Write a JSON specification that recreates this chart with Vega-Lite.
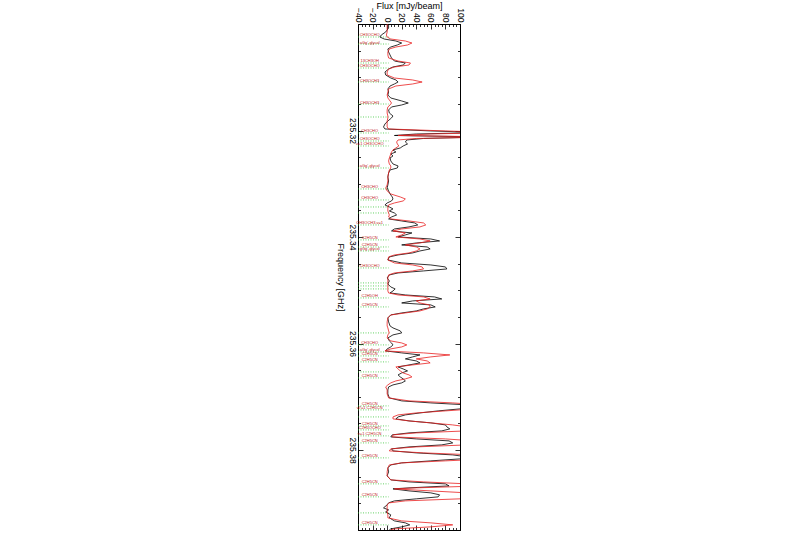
{
  "$schema": "https://vega.github.io/schema/vega-lite/v6.json",
  "width": 102,
  "height": 506,
  "autosize": "none",
  "padding": {"left": 358, "top": 24, "right": 340, "bottom": 3},
  "background": "white",
  "config": {
    "view": {"stroke": "black", "strokeWidth": 1},
    "axis": {"labelFont": "Liberation Sans", "titleFont": "Liberation Sans", "labelColor": "black", "titleColor": "black", "domainColor": "black", "tickColor": "black", "titleFontWeight": "normal", "grid": false, "labelFontSize": 8.5, "titleFontSize": 9, "domainWidth": 1, "tickWidth": 0.8}
  },
  "datasets": {
    "spec": [
      {"f": 235.30000, "obs": 2, "mod": 0},
      {"f": 235.30075, "obs": 2, "mod": 0},
      {"f": 235.30150, "obs": -2, "mod": 0},
      {"f": 235.30206, "obs": -8, "mod": -1},
      {"f": 235.30244, "obs": -10, "mod": 0},
      {"f": 235.30282, "obs": -4, "mod": 5},
      {"f": 235.30319, "obs": 12, "mod": 25},
      {"f": 235.30357, "obs": 20, "mod": 34},
      {"f": 235.30394, "obs": 14, "mod": 28},
      {"f": 235.30432, "obs": 5, "mod": 12},
      {"f": 235.30469, "obs": 1, "mod": 3},
      {"f": 235.30526, "obs": 2, "mod": 1},
      {"f": 235.30582, "obs": 4, "mod": 1},
      {"f": 235.30638, "obs": 6, "mod": 2},
      {"f": 235.30695, "obs": 10, "mod": 15},
      {"f": 235.30732, "obs": 25, "mod": 32},
      {"f": 235.30770, "obs": 22, "mod": 30},
      {"f": 235.30807, "obs": 8, "mod": 10},
      {"f": 235.30845, "obs": 2, "mod": 2},
      {"f": 235.30901, "obs": -3, "mod": 0},
      {"f": 235.30957, "obs": -2, "mod": 0},
      {"f": 235.31014, "obs": 5, "mod": 10},
      {"f": 235.31051, "obs": 12, "mod": 35},
      {"f": 235.31089, "obs": 15, "mod": 48},
      {"f": 235.31126, "obs": 10, "mod": 35},
      {"f": 235.31164, "obs": 4, "mod": 12},
      {"f": 235.31220, "obs": 1, "mod": 2},
      {"f": 235.31276, "obs": 2, "mod": 1},
      {"f": 235.31333, "obs": 1, "mod": 0},
      {"f": 235.31389, "obs": 5, "mod": 1},
      {"f": 235.31445, "obs": 20, "mod": 4},
      {"f": 235.31483, "obs": 29, "mod": 6},
      {"f": 235.31520, "obs": 20, "mod": 4},
      {"f": 235.31558, "obs": 6, "mod": 1},
      {"f": 235.31614, "obs": 2, "mod": 0},
      {"f": 235.31671, "obs": 3, "mod": 0},
      {"f": 235.31727, "obs": 8, "mod": 1},
      {"f": 235.31764, "obs": 6, "mod": 1},
      {"f": 235.31821, "obs": 1, "mod": 0},
      {"f": 235.31877, "obs": -3, "mod": 0},
      {"f": 235.31933, "obs": -5, "mod": 0},
      {"f": 235.31971, "obs": -3, "mod": 2},
      {"f": 235.32008, "obs": 60, "mod": 80},
      {"f": 235.32037, "obs": 130, "mod": 150},
      {"f": 235.32065, "obs": 40, "mod": 60},
      {"f": 235.32093, "obs": 10, "mod": 15},
      {"f": 235.32121, "obs": 130, "mod": 150},
      {"f": 235.32149, "obs": 50, "mod": 40},
      {"f": 235.32177, "obs": 27, "mod": 15},
      {"f": 235.32215, "obs": 25, "mod": 13},
      {"f": 235.32252, "obs": 28, "mod": 14},
      {"f": 235.32290, "obs": 22, "mod": 16},
      {"f": 235.32327, "obs": 18, "mod": 12},
      {"f": 235.32365, "obs": 8, "mod": 8},
      {"f": 235.32403, "obs": 12, "mod": 6},
      {"f": 235.32440, "obs": 5, "mod": 5},
      {"f": 235.32478, "obs": 8, "mod": 4},
      {"f": 235.32515, "obs": 4, "mod": 3},
      {"f": 235.32571, "obs": 5, "mod": 2},
      {"f": 235.32628, "obs": 8, "mod": 3},
      {"f": 235.32665, "obs": 15, "mod": 5},
      {"f": 235.32703, "obs": 14, "mod": 5},
      {"f": 235.32740, "obs": 4, "mod": 3},
      {"f": 235.32797, "obs": 2, "mod": 2},
      {"f": 235.32872, "obs": 1, "mod": 1},
      {"f": 235.32947, "obs": 2, "mod": 1},
      {"f": 235.33022, "obs": 1, "mod": 0},
      {"f": 235.33078, "obs": 0, "mod": -2},
      {"f": 235.33135, "obs": 2, "mod": 0},
      {"f": 235.33191, "obs": 4, "mod": 5},
      {"f": 235.33247, "obs": 7, "mod": 18},
      {"f": 235.33285, "obs": 8, "mod": 25},
      {"f": 235.33322, "obs": 6, "mod": 22},
      {"f": 235.33360, "obs": 0, "mod": 10},
      {"f": 235.33397, "obs": -3, "mod": 2},
      {"f": 235.33435, "obs": 3, "mod": 1},
      {"f": 235.33472, "obs": 8, "mod": 1},
      {"f": 235.33510, "obs": 3, "mod": 1},
      {"f": 235.33548, "obs": 10, "mod": 2},
      {"f": 235.33585, "obs": 13, "mod": 3},
      {"f": 235.33623, "obs": 6, "mod": 2},
      {"f": 235.33660, "obs": 2, "mod": 5},
      {"f": 235.33698, "obs": 20, "mod": 30},
      {"f": 235.33735, "obs": 38, "mod": 50},
      {"f": 235.33773, "obs": 42, "mod": 53},
      {"f": 235.33810, "obs": 30, "mod": 45},
      {"f": 235.33848, "obs": 10, "mod": 20},
      {"f": 235.33885, "obs": 6, "mod": 8},
      {"f": 235.33923, "obs": 34, "mod": 25},
      {"f": 235.33960, "obs": 25, "mod": 20},
      {"f": 235.33998, "obs": 15, "mod": 12},
      {"f": 235.34036, "obs": 60, "mod": 45},
      {"f": 235.34073, "obs": 72, "mod": 59},
      {"f": 235.34111, "obs": 40, "mod": 45},
      {"f": 235.34148, "obs": 20, "mod": 25},
      {"f": 235.34186, "obs": 55, "mod": 40},
      {"f": 235.34223, "obs": 59, "mod": 45},
      {"f": 235.34261, "obs": 45, "mod": 40},
      {"f": 235.34298, "obs": 35, "mod": 30},
      {"f": 235.34336, "obs": 15, "mod": 10},
      {"f": 235.34373, "obs": 3, "mod": 2},
      {"f": 235.34430, "obs": 1, "mod": 1},
      {"f": 235.34486, "obs": 20, "mod": 10},
      {"f": 235.34524, "obs": 60, "mod": 35},
      {"f": 235.34561, "obs": 80, "mod": 48},
      {"f": 235.34599, "obs": 82, "mod": 50},
      {"f": 235.34636, "obs": 50, "mod": 35},
      {"f": 235.34674, "obs": 15, "mod": 10},
      {"f": 235.34711, "obs": 3, "mod": 2},
      {"f": 235.34768, "obs": 0, "mod": 1},
      {"f": 235.34824, "obs": 3, "mod": 1},
      {"f": 235.34880, "obs": 1, "mod": 1},
      {"f": 235.34937, "obs": 5, "mod": 1},
      {"f": 235.34974, "obs": 11, "mod": 1},
      {"f": 235.35012, "obs": 8, "mod": 1},
      {"f": 235.35049, "obs": 4, "mod": 2},
      {"f": 235.35087, "obs": 25, "mod": 15},
      {"f": 235.35124, "obs": 65, "mod": 50},
      {"f": 235.35162, "obs": 75, "mod": 59},
      {"f": 235.35199, "obs": 35, "mod": 40},
      {"f": 235.35237, "obs": 20, "mod": 45},
      {"f": 235.35274, "obs": 60, "mod": 58},
      {"f": 235.35312, "obs": 66, "mod": 59},
      {"f": 235.35349, "obs": 50, "mod": 55},
      {"f": 235.35387, "obs": 40, "mod": 45},
      {"f": 235.35425, "obs": 20, "mod": 25},
      {"f": 235.35462, "obs": 5, "mod": 5},
      {"f": 235.35518, "obs": 1, "mod": 1},
      {"f": 235.35593, "obs": 2, "mod": 0},
      {"f": 235.35669, "obs": 4, "mod": 0},
      {"f": 235.35706, "obs": 8, "mod": 1},
      {"f": 235.35762, "obs": 18, "mod": 2},
      {"f": 235.35800, "obs": 20, "mod": 3},
      {"f": 235.35837, "obs": 8, "mod": 1},
      {"f": 235.35894, "obs": 1, "mod": 0},
      {"f": 235.35950, "obs": 3, "mod": 5},
      {"f": 235.35988, "obs": 6, "mod": 20},
      {"f": 235.36025, "obs": 8, "mod": 27},
      {"f": 235.36063, "obs": 5, "mod": 20},
      {"f": 235.36100, "obs": 0, "mod": 5},
      {"f": 235.36138, "obs": -2, "mod": -3},
      {"f": 235.36175, "obs": 20, "mod": 50},
      {"f": 235.36213, "obs": 45, "mod": 86},
      {"f": 235.36250, "obs": 35, "mod": 60},
      {"f": 235.36288, "obs": 25, "mod": 40},
      {"f": 235.36326, "obs": 40, "mod": 55},
      {"f": 235.36363, "obs": 45, "mod": 59},
      {"f": 235.36401, "obs": 30, "mod": 35},
      {"f": 235.36438, "obs": 15, "mod": 12},
      {"f": 235.36476, "obs": 22, "mod": 15},
      {"f": 235.36513, "obs": 28, "mod": 18},
      {"f": 235.36551, "obs": 20, "mod": 22},
      {"f": 235.36588, "obs": 15, "mod": 30},
      {"f": 235.36626, "obs": 18, "mod": 34},
      {"f": 235.36663, "obs": 22, "mod": 25},
      {"f": 235.36701, "obs": 25, "mod": 12},
      {"f": 235.36738, "obs": 20, "mod": 5},
      {"f": 235.36776, "obs": 8, "mod": 1},
      {"f": 235.36814, "obs": 2, "mod": -2},
      {"f": 235.36870, "obs": 1, "mod": 0},
      {"f": 235.36945, "obs": 1, "mod": 0},
      {"f": 235.37020, "obs": 3, "mod": 2},
      {"f": 235.37076, "obs": 20, "mod": 30},
      {"f": 235.37114, "obs": 60, "mod": 90},
      {"f": 235.37151, "obs": 110, "mod": 130},
      {"f": 235.37189, "obs": 120, "mod": 140},
      {"f": 235.37226, "obs": 100, "mod": 120},
      {"f": 235.37264, "obs": 70, "mod": 80},
      {"f": 235.37302, "obs": 45, "mod": 40},
      {"f": 235.37339, "obs": 25, "mod": 15},
      {"f": 235.37377, "obs": 15, "mod": 8},
      {"f": 235.37414, "obs": 12, "mod": 8},
      {"f": 235.37452, "obs": 30, "mod": 30},
      {"f": 235.37489, "obs": 60, "mod": 60},
      {"f": 235.37527, "obs": 80, "mod": 90},
      {"f": 235.37564, "obs": 82, "mod": 110},
      {"f": 235.37602, "obs": 86, "mod": 130},
      {"f": 235.37639, "obs": 75, "mod": 110},
      {"f": 235.37677, "obs": 30, "mod": 40},
      {"f": 235.37714, "obs": 7, "mod": 8},
      {"f": 235.37752, "obs": 5, "mod": 7},
      {"f": 235.37790, "obs": 40, "mod": 80},
      {"f": 235.37827, "obs": 85, "mod": 120},
      {"f": 235.37865, "obs": 90, "mod": 140},
      {"f": 235.37902, "obs": 75, "mod": 110},
      {"f": 235.37940, "obs": 30, "mod": 40},
      {"f": 235.37977, "obs": 6, "mod": 5},
      {"f": 235.38015, "obs": 8, "mod": 3},
      {"f": 235.38052, "obs": 40, "mod": 50},
      {"f": 235.38090, "obs": 90, "mod": 120},
      {"f": 235.38127, "obs": 110, "mod": 150},
      {"f": 235.38165, "obs": 100, "mod": 140},
      {"f": 235.38202, "obs": 60, "mod": 80},
      {"f": 235.38240, "obs": 20, "mod": 20},
      {"f": 235.38278, "obs": 5, "mod": 3},
      {"f": 235.38334, "obs": 1, "mod": 1},
      {"f": 235.38409, "obs": 2, "mod": 0},
      {"f": 235.38484, "obs": 0, "mod": 0},
      {"f": 235.38559, "obs": 5, "mod": 5},
      {"f": 235.38597, "obs": 30, "mod": 50},
      {"f": 235.38634, "obs": 80, "mod": 110},
      {"f": 235.38672, "obs": 85, "mod": 130},
      {"f": 235.38709, "obs": 30, "mod": 40},
      {"f": 235.38728, "obs": 8, "mod": 10},
      {"f": 235.38766, "obs": 30, "mod": 60},
      {"f": 235.38803, "obs": 60, "mod": 110},
      {"f": 235.38840, "obs": 72, "mod": 135},
      {"f": 235.38878, "obs": 70, "mod": 140},
      {"f": 235.38915, "obs": 40, "mod": 100},
      {"f": 235.38953, "obs": 10, "mod": 25},
      {"f": 235.38990, "obs": 2, "mod": 3},
      {"f": 235.39028, "obs": 0, "mod": 0},
      {"f": 235.39085, "obs": -5, "mod": 0},
      {"f": 235.39122, "obs": 2, "mod": 0},
      {"f": 235.39160, "obs": -2, "mod": 0},
      {"f": 235.39216, "obs": 5, "mod": 1},
      {"f": 235.39272, "obs": 3, "mod": 1},
      {"f": 235.39329, "obs": 10, "mod": 20},
      {"f": 235.39366, "obs": 25, "mod": 60},
      {"f": 235.39404, "obs": 31, "mod": 90},
      {"f": 235.39441, "obs": 20, "mod": 60},
      {"f": 235.39479, "obs": 5, "mod": 10},
      {"f": 235.39498, "obs": 3, "mod": 5}
    ],
    "lines": [
      {"f": 235.30244, "name": "CH3OCHO"},
      {"f": 235.30376, "name": "aGg'-glycol"},
      {"f": 235.30732, "name": "13CH3OH"},
      {"f": 235.30826, "name": "CH3OCHO"},
      {"f": 235.31089, "name": "CH3OCH3"},
      {"f": 235.31502, "name": "CH3OCH3"},
      {"f": 235.31746, "name": ""},
      {"f": 235.32046, "name": "CH3CHO"},
      {"f": 235.32196, "name": "CH3OCHO"},
      {"f": 235.32290, "name": "v=1 CH3OCHO"},
      {"f": 235.32703, "name": "aGg'-glycol"},
      {"f": 235.33097, "name": "CH3CHO"},
      {"f": 235.33304, "name": "CH3CHO"},
      {"f": 235.33435, "name": ""},
      {"f": 235.33548, "name": ""},
      {"f": 235.33773, "name": "CH3OCH3,v=1"},
      {"f": 235.34054, "name": "C2H5CN"},
      {"f": 235.34186, "name": "C2H5CN"},
      {"f": 235.34261, "name": "gGg'-glycol"},
      {"f": 235.34580, "name": "CH3OCHO"},
      {"f": 235.34861, "name": ""},
      {"f": 235.34918, "name": ""},
      {"f": 235.34974, "name": ""},
      {"f": 235.35143, "name": "C2H5OH"},
      {"f": 235.35312, "name": "C2H5CN"},
      {"f": 235.35800, "name": ""},
      {"f": 235.36025, "name": "CH3CHO"},
      {"f": 235.36157, "name": "aGg'-glycol"},
      {"f": 235.36232, "name": "C2H5CN"},
      {"f": 235.36344, "name": "C2H5CN"},
      {"f": 235.36532, "name": ""},
      {"f": 235.36645, "name": "C2H5CN"},
      {"f": 235.37170, "name": "C2H5CN"},
      {"f": 235.37245, "name": "v7=1 C2H5CN"},
      {"f": 235.37377, "name": ""},
      {"f": 235.37546, "name": "C2H5CN"},
      {"f": 235.37621, "name": "C2H5OCHO"},
      {"f": 235.37733, "name": "v=1 C2H5CN"},
      {"f": 235.37865, "name": "C2H5CN"},
      {"f": 235.38146, "name": "C2H5CN"},
      {"f": 235.38634, "name": "C2H5CN"},
      {"f": 235.38878, "name": "C2H5CN"},
      {"f": 235.39179, "name": ""},
      {"f": 235.39404, "name": "C2H5CN"}
    ]
  },
  "layer": [
    {
      "data": {"name": "lines"},
      "mark": {"type": "rule", "color": "#22c022", "strokeWidth": 0.7, "strokeDash": [1, 1.5]},
      "encoding": {
        "y": {"field": "f", "type": "quantitative", "scale": {"domain": [235.3, 235.395], "reverse": true, "zero": false, "nice": false}, "axis": null},
        "x": {"datum": -40, "type": "quantitative", "scale": {"domain": [-40, 100], "nice": false, "zero": false}, "axis": null},
        "x2": {"datum": 2}
      }
    },
    {
      "data": {"name": "lines"},
      "mark": {"type": "text", "color": "#c01818", "fontSize": 4, "font": "Liberation Sans", "baseline": "bottom", "align": "center", "dy": 0.5},
      "encoding": {
        "y": {"field": "f", "type": "quantitative", "axis": null},
        "x": {"datum": -24, "type": "quantitative", "axis": null},
        "text": {"field": "name"}
      }
    },
    {
      "data": {"name": "spec"},
      "mark": {"type": "line", "color": "black", "strokeWidth": 0.8, "clip": true},
      "encoding": {
        "y": {"field": "f", "type": "quantitative", "title": "Frequency [GHz]",
          "axis": {"orient": "left", "values": [235.305, 235.31, 235.315, 235.32, 235.325, 235.33, 235.335, 235.34, 235.345, 235.35, 235.355, 235.36, 235.365, 235.37, 235.375, 235.38, 235.385, 235.39],
            "labelExpr": "abs(datum.value*50 - round(datum.value*50)) < 0.000001 ? format(datum.value, '.2f') : ''",
            "labelAngle": 90, "labelAlign": "center", "labelBaseline": "top", "labelPadding": 7,
            "tickSize": {"condition": {"test": "abs(datum.value*50 - round(datum.value*50)) < 0.000001", "value": -5}, "value": -2.5},
            "titleAngle": 90, "titleBaseline": "top", "titlePadding": 3}},
        "x": {"field": "obs", "type": "quantitative", "title": "Flux [mJy/beam]",
          "axis": {"orient": "top", "values": [-40, -35, -30, -25, -20, -15, -10, -5, 0, 5, 10, 15, 20, 25, 30, 35, 40, 45, 50, 55, 60, 65, 70, 75, 80, 85, 90, 95, 100],
            "labelExpr": "datum.value % 20 === 0 ? datum.label : ''",
            "labelAngle": 90, "labelAlign": "right", "labelBaseline": "middle", "labelPadding": 7,
            "tickSize": {"condition": {"test": "datum.value % 20 === 0", "value": -5}, "value": -2.5},
            "titlePadding": -3}},
        "order": {"field": "f"}
      }
    },
    {
      "data": {"name": "spec"},
      "mark": {"type": "line", "color": "#e82020", "strokeWidth": 0.8, "clip": true},
      "encoding": {
        "y": {"field": "f", "type": "quantitative",
          "axis": {"orient": "right", "values": [235.305, 235.31, 235.315, 235.32, 235.325, 235.33, 235.335, 235.34, 235.345, 235.35, 235.355, 235.36, 235.365, 235.37, 235.375, 235.38, 235.385, 235.39], "labels": false, "title": null,
            "tickSize": {"condition": {"test": "abs(datum.value*50 - round(datum.value*50)) < 0.000001", "value": -5}, "value": -2.5}}},
        "x": {"field": "mod", "type": "quantitative",
          "axis": {"orient": "bottom", "values": [-40, -35, -30, -25, -20, -15, -10, -5, 0, 5, 10, 15, 20, 25, 30, 35, 40, 45, 50, 55, 60, 65, 70, 75, 80, 85, 90, 95, 100], "labels": false, "title": null,
            "tickSize": {"condition": {"test": "datum.value % 20 === 0", "value": -5}, "value": -2.5}}},
        "order": {"field": "f"}
      }
    }
  ],
  "resolve": {"axis": {"x": "independent", "y": "independent"}}
}
